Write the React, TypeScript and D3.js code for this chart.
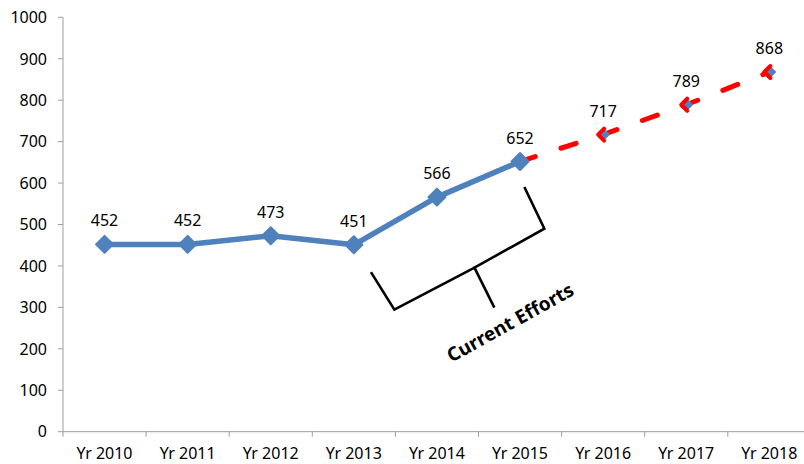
import React from "react";
import * as d3 from "d3";

const categories = ["Yr 2010", "Yr 2011", "Yr 2012", "Yr 2013", "Yr 2014", "Yr 2015", "Yr 2016", "Yr 2017", "Yr 2018"];
const actualValues = [452, 452, 473, 451, 566, 652];
const projectedValues = [652, 717, 789, 868];
const yTicks = [0, 100, 200, 300, 400, 500, 600, 700, 800, 900, 1000];
const annotationText = "Current Efforts";

const W = 804;
const H = 464;
const FONT = "'Noto Sans', 'Open Sans', sans-serif";
const BLUE = "#4F81BD";
const RED = "#FF0000";
const AXIS = "#9d9d9d";

export default function App() {
  const x = d3.scaleBand<string>().domain(categories).range([63, 63 + 9 * 83.1]).padding(0);
  const y = d3.scaleLinear().domain([0, 1000]).range([431.7, 17.3]);
  const cx = (c: string) => (x(c) as number) + x.bandwidth() / 2;

  const actual = actualValues.map((v, i) => ({ c: categories[i], v }));
  const projected = projectedValues.map((v, i) => ({ c: categories[i + 5], v }));

  const line = d3
    .line<{ c: string; v: number }>()
    .x((d) => cx(d.c))
    .y((d) => y(d.v));

  const diamond = (px: number, py: number, r: number) =>
    `M${px},${py - r}L${px + r},${py}L${px},${py + r}L${px - r},${py}Z`;

  const x0 = 63;
  const yBase = y(0);

  // bracket anchored on the 2014 point
  const bx = cx("Yr 2014");
  const by = y(566);
  const bracket = d3.line()([
    [bx - 66, by + 75],
    [bx - 42.6, by + 112.5],
    [bx + 35.7, by + 71.5],
    [bx + 107.4, by + 31.5],
    [bx + 87.4, by - 10.1],
  ]) as string;
  const tail = d3.line()([
    [bx + 37, by + 69.5],
    [bx + 57.4, by + 110.5],
  ]) as string;

  return (
    <svg width={W} height={H} style={{ position: "absolute", left: 0, top: 0 }} fontFamily={FONT}>
      <rect width={W} height={H} fill="#fff" />
      {/* Y axis */}
      <line x1={x0} x2={x0} y1={y(1000)} y2={yBase} stroke={AXIS} strokeWidth={1} />
      {yTicks.map((t) => (
        <g key={t}>
          <line x1={x0 - 5} x2={x0} y1={y(t)} y2={y(t)} stroke={AXIS} />
          <text x={47} y={y(t)} dy="0.36em" textAnchor="end" fontSize={16} fill="#000">
            {t}
          </text>
        </g>
      ))}
      {/* X axis */}
      <line x1={x0} x2={W + 10} y1={yBase} y2={yBase} stroke={AXIS} />
      {categories.map((c) => (
        <g key={c}>
          <line x1={x(c) as number} x2={x(c) as number} y1={yBase} y2={yBase + 5} stroke={AXIS} />
          <text x={cx(c)} y={459} textAnchor="middle" fontSize={16} fill="#000">
            {c}
          </text>
        </g>
      ))}

      {/* actual series */}
      <path d={line(actual) as string} fill="none" stroke={BLUE} strokeWidth={5.5} strokeLinejoin="round" />
      {/* projected series */}
      <path
        d={line(projected) as string}
        fill="none"
        stroke={RED}
        strokeWidth={5}
        strokeLinecap="round"
        strokeDasharray="16 27"
      />
      {actual.map((d) => (
        <path
          key={d.c}
          d={diamond(cx(d.c), y(d.v), 8.5)}
          fill={BLUE}
          stroke={BLUE}
          strokeWidth={2}
          strokeLinejoin="round"
        />
      ))}
      {projected.slice(1).map((d) => {
        const px = cx(d.c);
        const py = y(d.v);
        const r = 6;
        return (
          <g key={d.c}>
            <path d={diamond(px + 1, py, r)} fill={BLUE} />
            <path
              d={`M${px + 1},${py - r}L${px - r + 1},${py}L${px + 1},${py + r}`}
              fill="none"
              stroke={RED}
              strokeWidth={4}
              strokeLinejoin="round"
              strokeLinecap="round"
            />
          </g>
        );
      })}

      {/* data labels */}
      {[...actual, ...projected.slice(1)].map((d) => (
        <text key={"l" + d.c} x={cx(d.c)} y={y(d.v) - 18} textAnchor="middle" fontSize={16} fill="#000">
          {d.v}
        </text>
      ))}

      {/* bracket annotation */}
      <path d={bracket} fill="none" stroke="#000" strokeWidth={2.6} strokeLinejoin="miter" />
      <path d={tail} fill="none" stroke="#000" strokeWidth={2.6} />
      <text
        x={0}
        y={0}
        transform={`translate(513.5,328.5) rotate(-29)`}
        textAnchor="middle"
        fontSize={19}
        fontWeight="bold"
        fill="#000"
      >
        {annotationText}
      </text>
    </svg>
  );
}
